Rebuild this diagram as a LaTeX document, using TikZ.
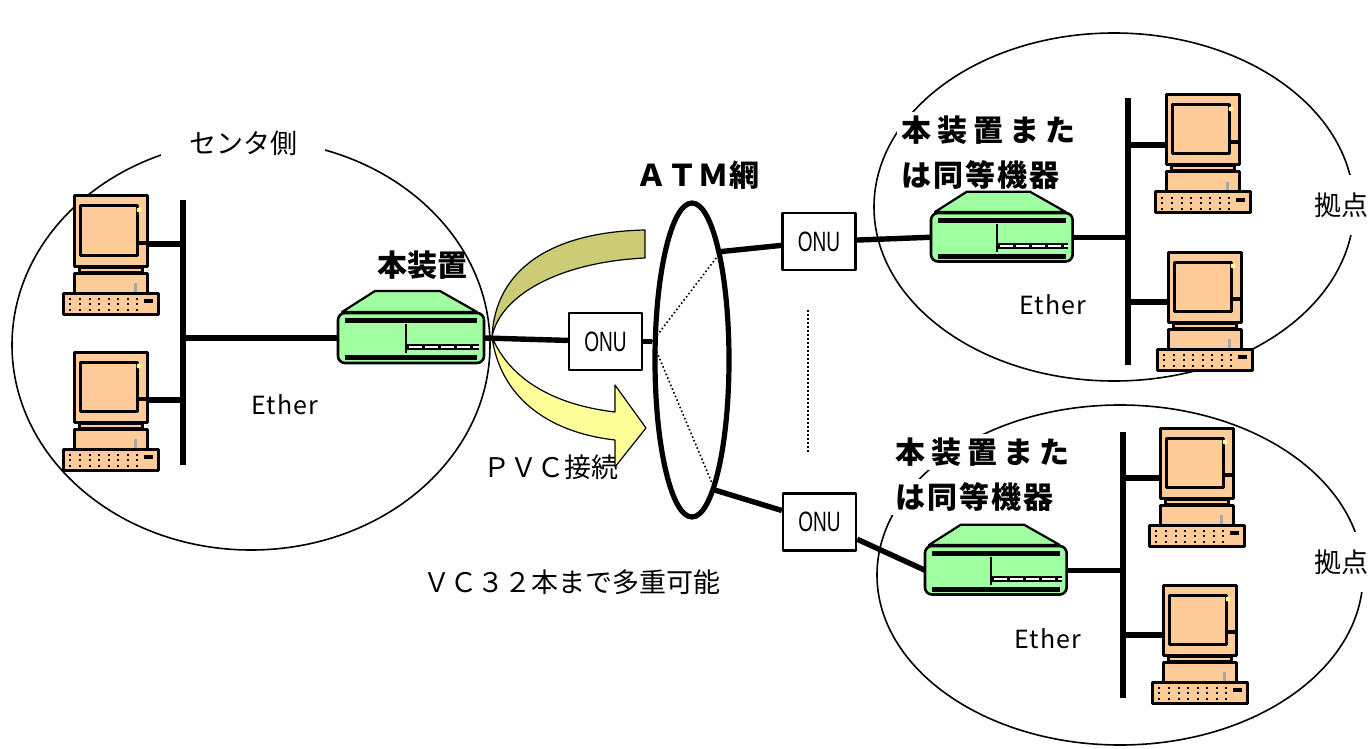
\documentclass[tikz,border=0pt]{standalone}
\usepackage{fontspec}
\setmainfont{Noto Sans CJK JP}
\newfontfamily\onufont[FakeStretch=0.68]{Liberation Sans}
\usetikzlibrary{shapes.geometric}
\definecolor{pcpeach}{HTML}{FFCC99}
\definecolor{boxgreen}{HTML}{A0FFA0}
\definecolor{arrowolive}{HTML}{CCCC77}
\definecolor{arrowyellow}{HTML}{FFFF99}
\tikzset{
  pcline/.style={draw=black, line width=1.5pt, fill=pcpeach},
  bus/.style={line width=3pt},
  stub/.style={line width=2.6pt},
  link/.style={line width=2.7pt},
  site/.style={line width=0.8pt},
  onu/.style={draw, line width=1.2pt, fill=white, minimum width=36.5pt, minimum height=28.5pt, inner sep=0pt, font=\onufont\fontsize{14}{14}\selectfont},
  lbl/.style={fill=white, inner sep=2pt},
  jp/.style={font=\fontsize{13.5}{16}\selectfont},
  jpbold/.style={font=\bfseries\fontsize{15}{18}\selectfont},
  ether/.style={font=\addfontfeature{LetterSpace=4}\fontsize{12.5}{14}\selectfont},
  % desktop computer, origin at the top left corner of the monitor
  pc/.pic={
    \path[pcline] (0,0) rectangle (73,70);
    \path[pcline] (6,10) rectangle (63,59);
    \draw[line width=2.2pt] (63,47) -- (73,47);
    \fill[arrowyellow] (65,14) circle (2.5);
    \path[pcline] (5,71) rectangle (68,76);
    \path[pcline] (0,77) rectangle (73,97);
    \draw[gray!70, line width=1.5pt] (61,87) -- (61,96);
    \path[pcline] (-11,97) rectangle (84,118);
    \foreach \cx in {-4,6,16,25,35,44,54,63}
      \foreach \cy in {103,108,114}
        \draw[line width=0.9pt] (\cx,\cy-1.2) -- (\cx,\cy+1.2);
    \fill (70,103) rectangle (79,107);
    \coordinate (-port) at (73,48);
    \coordinate (-left) at (0,50);
  },
  % router box, origin at the top left corner of the body
  router/.pic={
    \path[draw, line width=1.1pt, fill=boxgreen] (4,-1) -- (37,-22) -- (102,-22) -- (139,-1) -- cycle;
    \path[draw, line width=1.3pt, fill=boxgreen, rounded corners=3.5pt] (0,0) rectangle (146,50);
    \fill (7,5) rectangle (139,10);
    \fill (7,42) rectangle (139,47);
    \draw[line width=1.4pt] (68,11) -- (68,40);
    \draw[line width=2.6pt] (68,34) -- (141,34);
    \draw[white, line width=0.8pt, dash pattern=on 6.5pt off 1.5pt] (71,34) -- (141,34);
    \coordinate (-w) at (0,25);
    \coordinate (-e) at (146,25);
  }
}
\begin{document}
\begin{tikzpicture}[x=0.5pt, y=-0.5pt, line join=round]
\useasboundingbox (0,0) rectangle (1372,749);
% sites
\draw[site] (251,345) ellipse [x radius=239, y radius=205];
\draw[site] (1114,207) ellipse [x radius=240, y radius=174];
\draw[site] (1120,575) ellipse [x radius=243, y radius=170];
\node[lbl, jp, inner xsep=14pt] (centerlbl) at (243,143) {センタ側};
\node[lbl, jp, inner ysep=9pt] (siteTlbl) at (1341,205) {拠点};
\node[lbl, jp, inner ysep=9pt] (siteBlbl) at (1341,562) {拠点};
\node[lbl, jpbold, anchor=west] (devT1) at (897,130) {\addfontfeature{LetterSpace=20}本装置また};
\node[lbl, jpbold, anchor=west] (devT2) at (897,175) {\addfontfeature{LetterSpace=7}は同等機器};
\node[lbl, jpbold, anchor=west] (devB1) at (891,452) {\addfontfeature{LetterSpace=20}本装置また};
\node[lbl, jpbold, anchor=west] (devB2) at (891,497) {\addfontfeature{LetterSpace=7}は同等機器};
\node[jpbold] (devC) at (422,265) {本装置};
\node[jpbold] (atmlbl) at (698,175) {\addfontfeature{LetterSpace=3}ＡＴＭ網};
\node[jp] (pvclbl) at (551,467) {ＰＶＣ接続};
\node[jp] (vclbl) at (572,582) {ＶＣ３２本まで多重可能};
\node[ether] (etherC) at (285,405) {Ether};
\node[ether] (etherT) at (1053,305) {Ether};
\node[ether] (etherB) at (1048,639) {Ether};
% PVC arrows
\draw[line width=0.6pt, fill=arrowolive] (492,337) .. controls (495,270) and (550,232) .. (645,230) -- (645,258) .. controls (560,262) and (500,295) .. (492,337) -- cycle;
\draw[line width=0.6pt, fill=arrowyellow] (492,337) .. controls (500,395) and (545,432) .. (615,440) -- (615,467) -- (646,428) -- (615,385) -- (615,412) .. controls (555,405) and (510,380) .. (492,337) -- cycle;
% center side
\pic (pcL1) at (74,196) {pc};
\pic (pcL2) at (74,352) {pc};
\pic (rtC) at (338,313) {router};
\coordinate (busLtop) at (183,200);
\coordinate (busLbot) at (183,465);
\draw[bus] (busLtop) -- (busLbot);
\draw[stub] (pcL1-port) -- (pcL1-port -| busLtop);
\draw[stub] (pcL2-port) -- (pcL2-port -| busLtop);
\draw[link] (rtC-w -| busLtop) -- (rtC-w);
% ATM network
\node[draw, ellipse, line width=2.6pt, minimum width=37pt, minimum height=157pt, inner sep=0pt] (atm) at (692,360) {};
\node[onu] (onuC) at (605.5,341.5) {ONU};
\node[onu] (onuT) at (819,241.5) {ONU};
\node[onu] (onuB) at (819.5,522) {ONU};
\coordinate (atmIn) at (atm.west |- onuC.east);
\draw[link] (rtC-e) -- (onuC);
\draw[link] (onuC) -- (atmIn);
\draw[line width=0.8pt, dash pattern=on 0.8pt off 1.2pt] (atm.75) -- (atmIn) -- (atm.-80);
\draw[link] (atm.75) -- (onuT);
\draw[link] (atm.-80) -- (onuB);
\draw[line width=0.8pt, dash pattern=on 0.8pt off 1.2pt] (808,310) -- (808,452);
% remote sites
\pic[scale=0.97] (rtT) at (931,213) {router};
\pic[scale=0.97] (rtB) at (925,546) {router};
\pic (pcT1) at (1166,95) {pc};
\pic (pcT2) at (1168,252) {pc};
\pic (pcB1) at (1160,428) {pc};
\pic (pcB2) at (1163,585) {pc};
\coordinate (busTtop) at (1128,98);
\coordinate (busTbot) at (1128,365);
\coordinate (busBtop) at (1123,432);
\coordinate (busBbot) at (1123,698);
\draw[bus] (busTtop) -- (busTbot);
\draw[bus] (busBtop) -- (busBbot);
\draw[link] (onuT) -- (rtT-w);
\draw[link] (onuB) -- (rtB-w);
\draw[link] (rtT-e) -- (rtT-e -| busTtop);
\draw[link] (rtB-e) -- (rtB-e -| busBtop);
\draw[stub] (pcT1-left -| busTtop) -- (pcT1-left);
\draw[stub] (pcT2-left -| busTtop) -- (pcT2-left);
\draw[stub] (pcB1-left -| busBtop) -- (pcB1-left);
\draw[stub] (pcB2-left -| busBtop) -- (pcB2-left);
\end{tikzpicture}
\end{document}
